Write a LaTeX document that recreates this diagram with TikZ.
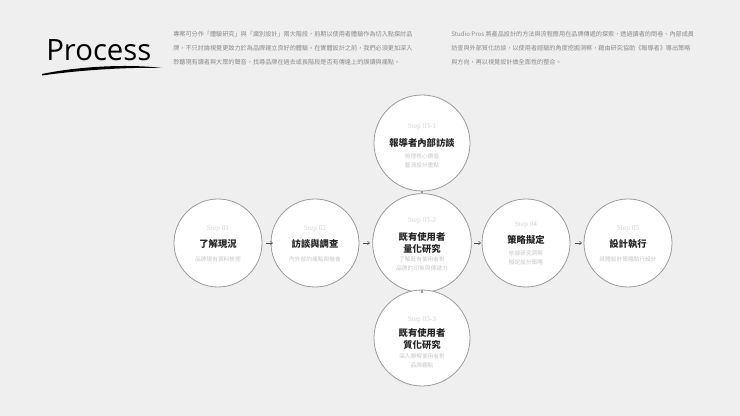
\documentclass[tikz,border=0pt]{standalone}
\usepackage{fontspec}
\setmainfont{Liberation Serif}
\newfontfamily\cjk{Noto Sans CJK TC}
\newfontfamily\ttl{Open Sans}
\usetikzlibrary{arrows.meta}
\definecolor{bg}{HTML}{EFEFEF}
\definecolor{ring}{HTML}{9A9A9A}
\definecolor{para}{HTML}{8A8A8A}
\definecolor{stepc}{HTML}{D4D4D4}
\definecolor{subc}{HTML}{C8C8C8}
\tikzset{
  circ/.style={circle,draw=ring,line width=0.6pt,fill=white,minimum size=#1},
  circ/.default=66pt,
  stp/.style={font=\fontsize{5.5}{6}\selectfont,text=stepc},
  ttlt/.style={font=\cjk\bfseries\fontsize{7}{9.5}\selectfont,text=black!85,align=center},
  subt/.style={font=\cjk\fontsize{4.3}{6.5}\selectfont,text=subc,align=center},
  parat/.style={font=\cjk\fontsize{4.6}{10.5}\selectfont,text=para,align=left,anchor=north west,inner sep=0pt},
  arr/.style={draw=black!70,line width=0.4pt,-{Straight Barb[length=1.5pt,width=2.5pt]}},
  vline/.style={draw=ring,line width=1.6pt}
}
\begin{document}
\begin{tikzpicture}[x=0.75pt,y=-0.75pt]
\fill[bg] (0,0) rectangle (740,416);
\useasboundingbox (0,0) rectangle (740,416);
% title
\node[font=\ttl\fontsize{22}{24}\selectfont,anchor=west,inner sep=0pt] (title) at (46,50) {Process};
\fill[black] (42,74) .. controls (80,66) and (130,64) .. (162,68) .. controls (130,67) and (80,70) .. (42,75.5) -- cycle;
% paragraphs
\node[parat] (p1) at (173,31) {專案可分作「體驗研究」與「識別設計」兩大階段，前期以使用者體驗作為切入點探討品\\牌，不只討論視覺更致力於為品牌建立良好的體驗。在實體設計之前，我們必須更加深入\\聆聽現有讀者與大眾的聲音，找尋品牌在過去或長階段是否有傳達上的誤讀與痛點。};
\node[parat] (p2) at (451,31) {Studio Pros 將產品設計的方法與流程應用在品牌傳遞的探索，透過讀者的問卷、內部成員\\訪查與外部質化訪談，以使用者經驗的角度挖掘洞察，藉由研究協助《報導者》導出策略\\與方向，再以視覺設計做全面性的整合。};
% circles
\node[circ=66pt] (c1) at (218,243) {};
\node[circ=66pt] (c2) at (315,243) {};
\node[circ=72pt] (c3t) at (422,143) {};
\node[circ=74pt] (c3) at (422,243) {};
\node[circ=72pt] (c3b) at (422,338) {};
\node[circ=66pt] (c4) at (526,243) {};
\node[circ=66pt] (c5) at (628,243) {};
\draw[vline] (c3t.south) -- (c3.north);
\draw[vline] (c3.south) -- (c3b.north);
% arrows
\coordinate (a1s) at (266,243); \coordinate (a1e) at (273,243);
\coordinate (a2s) at (363,243); \coordinate (a2e) at (370,243);
\coordinate (a3s) at (474,243); \coordinate (a3e) at (481,243);
\coordinate (a4s) at (575,243); \coordinate (a4e) at (582,243);
\draw[arr] (a1s) -- (a1e);
\draw[arr] (a2s) -- (a2e);
\draw[arr] (a3s) -- (a3e);
\draw[arr] (a4s) -- (a4e);
% texts
\node[stp] (s1) at (218,229) {Step 01};
\node[ttlt] (t1) at (218,244) {了解現況};
\node[subt] (u1) at (218,259) {品牌現有資料梳理};
\node[stp] (s2) at (315,229) {Step 02};
\node[ttlt] (t2) at (315,244) {訪談與調查};
\node[subt] (u2) at (315,259) {內外部的痛點與機會};
\node[stp] (s3t) at (422,127) {Step 03-1};
\node[ttlt] (t3t) at (422,143) {報導者內部訪談};
\node[subt] (u3t) at (422,161) {梳理核心價值\\釐清設計重點};
\node[stp] (s3) at (422,221) {Step 03-2};
\node[ttlt] (t3) at (422,243) {既有使用者\\量化研究};
\node[subt] (u3) at (422,264) {了解既有使用者對\\品牌的印象與傳遞力};
\node[stp] (s3b) at (422,320) {Step 03-3};
\node[ttlt] (t3b) at (422,339) {既有使用者\\質化研究};
\node[subt] (u3b) at (422,361) {深入瞭解使用者對\\品牌觀點};
\node[stp] (s4) at (526,225) {Step 04};
\node[ttlt] (t4) at (526,240) {策略擬定};
\node[subt] (u4) at (526,258) {依據研究洞察\\擬定設計策略};
\node[stp] (s5) at (628,229) {Step 05};
\node[ttlt] (t5) at (628,244) {設計執行};
\node[subt] (u5) at (628,259) {具體設計策略執行設計};
\end{tikzpicture}
\end{document}
